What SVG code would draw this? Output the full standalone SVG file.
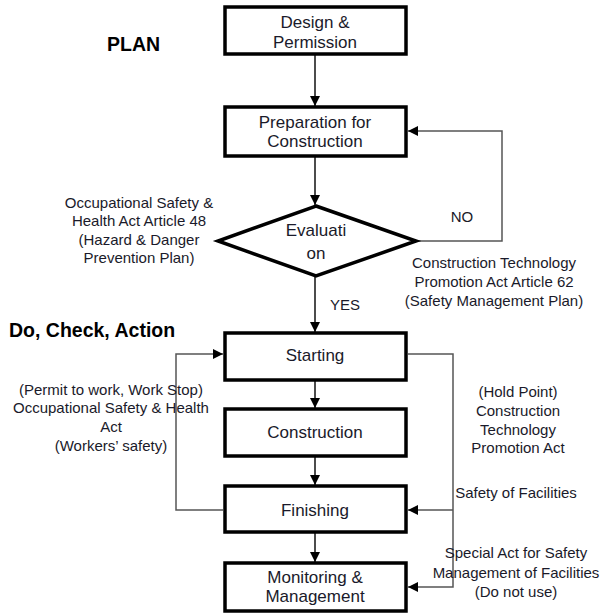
<svg xmlns="http://www.w3.org/2000/svg" width="600" height="615" viewBox="0 0 600 615">
<defs>
<marker id="ah" viewBox="0 0 10 10" refX="10" refY="5" markerWidth="10" markerHeight="10" markerUnits="userSpaceOnUse" orient="auto">
<path d="M0,0 L10,5 L0,10 z" fill="#000"/>
</marker>
<style>
.box{fill:#fff;stroke:#000;stroke-width:3.5}
.bt{font-family:"Liberation Sans",Arial,sans-serif;font-size:17px;fill:#1a1a2a;text-anchor:middle}
.lb{font-family:"Liberation Sans",Arial,sans-serif;font-size:15px;fill:#1a1a2a;text-anchor:middle}
.hd{font-family:"Liberation Sans",Arial,sans-serif;font-weight:bold;font-size:19.5px;fill:#000}
.c{fill:none;stroke:#111;stroke-width:1.5}
.g{fill:none;stroke:#555;stroke-width:1.5}
</style>
</defs>
<rect width="600" height="615" fill="#fff"/>
<text class="hd" x="107" y="51">PLAN</text>
<text class="hd" x="9" y="337">Do, Check, Action</text>
<g id="connectors">
<path class="c" d="M315,55 V106" marker-end="url(#ah)"/>
<path class="c" d="M315,157 V205" marker-end="url(#ah)"/>
<path class="g" d="M417,241 H502 V131 H408" marker-end="url(#ah)"/>
<path class="c" d="M315,277 V332" marker-end="url(#ah)"/>
<path class="c" d="M315,381 V408" marker-end="url(#ah)"/>
<path class="c" d="M315,457 V485" marker-end="url(#ah)"/>
<path class="c" d="M315,533 V562" marker-end="url(#ah)"/>
<path class="g" d="M223,510 H176 V354 H223" marker-end="url(#ah)"/>
<path class="g" d="M408,354 H453 V587 H408" marker-end="url(#ah)"/>
<path class="g" d="M453,510 H408" marker-end="url(#ah)"/>
</g>
<g id="design">
<rect class="box" x="225" y="7" width="181" height="47"/>
<text class="bt" x="315" y="28">Design &amp;</text>
<text class="bt" x="315" y="48">Permission</text>
</g>
<g id="preparation">
<rect class="box" x="225" y="107" width="181" height="49"/>
<text class="bt" x="315" y="128">Preparation for</text>
<text class="bt" x="315" y="147">Construction</text>
</g>
<g id="evaluation">
<polygon points="316,206 416,241 316,276 218,241" fill="#fff" stroke="#000" stroke-width="3.5"/>
<text class="bt" x="316" y="236">Evaluati</text>
<text class="bt" x="316" y="259">on</text>
</g>
<g id="starting">
<rect class="box" x="225" y="333" width="181" height="47"/>
<text class="bt" x="315" y="361">Starting</text>
</g>
<g id="construction">
<rect class="box" x="225" y="409" width="181" height="47"/>
<text class="bt" x="315" y="438">Construction</text>
</g>
<g id="finishing">
<rect class="box" x="225" y="486" width="181" height="46"/>
<text class="bt" x="315" y="516">Finishing</text>
</g>
<g id="monitoring">
<rect class="box" x="225" y="563" width="181" height="48"/>
<text class="bt" x="315" y="583">Monitoring &amp;</text>
<text class="bt" x="315" y="602">Management</text>
</g>
<g id="labels">
<text class="lb" x="139" y="208">Occupational Safety &amp;</text>
<text class="lb" x="139" y="226">Health  Act Article 48</text>
<text class="lb" x="139" y="245">(Hazard &amp; Danger</text>
<text class="lb" x="139" y="263">Prevention Plan)</text>
<text class="lb" x="462" y="222">NO</text>
<text class="lb" x="494" y="268">Construction Technology</text>
<text class="lb" x="494" y="287">Promotion  Act Article 62</text>
<text class="lb" x="494" y="306">(Safety Management Plan)</text>
<text class="lb" x="345" y="310">YES</text>
<text class="lb" x="111" y="395">(Permit to work, Work Stop)</text>
<text class="lb" x="111" y="413">Occupational Safety &amp; Health</text>
<text class="lb" x="111" y="432">Act</text>
<text class="lb" x="111" y="451">(Workers’ safety)</text>
<text class="lb" x="518" y="397">(Hold Point)</text>
<text class="lb" x="518" y="416">Construction</text>
<text class="lb" x="518" y="435">Technology</text>
<text class="lb" x="518" y="453">Promotion  Act</text>
<text class="lb" x="516" y="498">Safety of Facilities</text>
<text class="lb" x="516" y="558">Special Act for Safety</text>
<text class="lb" x="516" y="578">Management  of Facilities</text>
<text class="lb" x="516" y="597">(Do not use)</text>
</g>
</svg>
